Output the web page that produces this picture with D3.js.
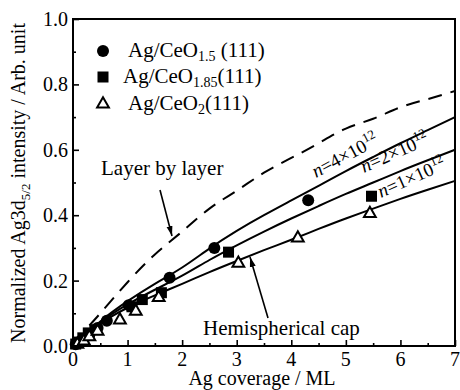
<!DOCTYPE html>
<html><head><meta charset="utf-8">
<script src="https://cdn.jsdelivr.net/npm/d3@7"></script>
<style>
svg text, svg tspan { font-family: "Liberation Serif" !important; }
</style>
</head><body style="margin:0;background:#fff">
<svg id="c" width="460" height="390" style="display:block"></svg>
<script>
// ---- data ----
const xTicks = [0, 1, 2, 3, 4, 5, 6, 7];
const yTicks = [0.0, 0.2, 0.4, 0.6, 0.8, 1.0];
const xMinor = [0.5, 1.5, 2.5, 3.5, 4.5, 5.5, 6.5];
const yMinor = [0.1, 0.3, 0.5, 0.7, 0.9];

const circX = [0.05, 0.12, 0.2, 0.3, 0.45, 0.62, 1.02, 1.77, 2.59, 4.31];
const circY = [0.005, 0.012, 0.022, 0.035, 0.055, 0.077, 0.125, 0.209, 0.30, 0.446];
const sqX = [0.05, 0.1, 0.18, 0.28, 0.4, 1.08, 1.27, 1.62, 2.85, 5.47];
const sqY = [0.006, 0.012, 0.025, 0.04, 0.05, 0.12, 0.142, 0.163, 0.287, 0.458];
const triX = [0.08, 0.2, 0.3, 0.45, 0.86, 1.15, 1.57, 3.03, 4.12, 5.44];
const triY = [0.005, 0.015, 0.028, 0.045, 0.079, 0.106, 0.148, 0.253, 0.33, 0.405];

const curveX = [0, 0.5, 1, 1.5, 2, 2.5, 3, 3.5, 4, 4.5, 5, 5.5, 6, 6.5, 7];
const n4Y = [0, 0.075, 0.137, 0.19, 0.24, 0.298, 0.352, 0.40, 0.445, 0.49, 0.535, 0.578, 0.62, 0.66, 0.70];
const n2Y = [0, 0.072, 0.127, 0.172, 0.215, 0.263, 0.308, 0.35, 0.39, 0.428, 0.465, 0.50, 0.535, 0.568, 0.60];
const n1Y = [0, 0.068, 0.117, 0.155, 0.19, 0.226, 0.26, 0.293, 0.325, 0.358, 0.39, 0.42, 0.45, 0.478, 0.505];

const lblX = [0.3, 0.5, 1, 1.5, 2, 2.5, 3, 3.5, 4, 4.5, 5, 5.5, 6, 6.5, 7];
const lblY = [0.063, 0.10, 0.195, 0.28, 0.35, 0.42, 0.475, 0.53, 0.575, 0.62, 0.665, 0.695, 0.73, 0.755, 0.78];

// ---- layout ----
const svg = d3.select("#c");
const L = 73, R = 455, T = 19, B = 346;
const x = d3.scaleLinear().domain([0, 7]).range([L, R]);
const y = d3.scaleLinear().domain([0, 1]).range([B, T]);

function txt(sel, size) {
  return sel.style("font-family", '"Liberation Serif"', "important").style("font-size", size + "px");
}

// curves
const line = d3.line().x(d => x(d[0])).y(d => y(d[1])).curve(d3.curveNatural);
svg.append("path").attr("d", line(d3.zip(lblX, lblY)))
  .attr("fill", "none").attr("stroke", "#000").attr("stroke-width", 2)
  .attr("stroke-dasharray", "14,9");
[n4Y, n2Y, n1Y].forEach(ys => {
  svg.append("path").attr("d", line(d3.zip(curveX, ys)))
    .attr("fill", "none").attr("stroke", "#000").attr("stroke-width", 2);
});

// markers
svg.append("g").selectAll("circle").data(d3.zip(circX, circY)).join("circle")
  .attr("cx", d => x(d[0])).attr("cy", d => y(d[1])).attr("r", 6).attr("fill", "#000");
svg.append("g").selectAll("rect").data(d3.zip(sqX, sqY)).join("rect")
  .attr("x", d => x(d[0]) - 5.5).attr("y", d => y(d[1]) - 5.5)
  .attr("width", 11).attr("height", 11).attr("fill", "#000");
const tri = d3.symbol().type(d3.symbolTriangle).size(60);
svg.append("g").selectAll("path").data(d3.zip(triX, triY)).join("path")
  .attr("d", tri).attr("transform", d => `translate(${x(d[0])},${y(d[1])})`)
  .attr("fill", "#fff").attr("stroke", "#000").attr("stroke-width", 2);

// axes: tick marks from d3 axes, labels drawn from the same scales
[[xTicks, -6], [xMinor, -3]].forEach(([v, s]) =>
  svg.append("g").attr("transform", `translate(0,${B})`)
    .call(d3.axisBottom(x).tickValues(v).tickSize(s).tickFormat("")));
[[yTicks, -6], [yMinor, -3]].forEach(([v, s]) =>
  svg.append("g").attr("transform", `translate(${L},0)`)
    .call(d3.axisLeft(y).tickValues(v).tickSize(s).tickFormat("")));
svg.selectAll(".domain").remove();
svg.selectAll(".tick text").remove();
svg.selectAll("g").attr("font-family", null).attr("font-size", null);
svg.selectAll(".tick line").attr("stroke", "#000").attr("stroke-width", 1.6);

txt(svg.append("g").selectAll("text").data(xTicks).join("text"), 20)
  .attr("x", d => x(d)).attr("y", 366).attr("text-anchor", "middle").text(d3.format("d"));
txt(svg.append("g").selectAll("text").data(yTicks).join("text"), 20)
  .attr("x", L - 5).attr("y", d => y(d) + 7).attr("text-anchor", "end").text(d3.format(".1f"));

svg.append("rect").attr("x", L).attr("y", T).attr("width", R - L).attr("height", B - T)
  .attr("fill", "none").attr("stroke", "#000").attr("stroke-width", 2);

// axis titles
txt(svg.append("text"), 20).attr("x", (L + R) / 2 - 2).attr("y", 385).attr("text-anchor", "middle")
  .text("Ag coverage / ML");
const yt = txt(svg.append("text"), 20).attr("transform", "translate(25,183) rotate(-90)")
  .attr("text-anchor", "middle");
yt.append("tspan").text("Normalized Ag3d");
yt.append("tspan").attr("dy", 5).style("font-size", "13px").text("5/2");
yt.append("tspan").attr("dy", -5).text(" intensity / Arb. unit");

// legend
const legSub = ["1.5", "1.85", "2"];
const legTail = [" (111)", "(111)", "(111)"];
const legTy = [57, 83, 110];
const legTx = [128, 123, 128];
legSub.forEach((s, i) => {
  const cy = legTy[i] - 6;
  if (i === 0) svg.append("circle").attr("cx", 103).attr("cy", cy).attr("r", 6).attr("fill", "#000");
  if (i === 1) svg.append("rect").attr("x", 97.5).attr("y", cy - 5.5).attr("width", 11).attr("height", 11).attr("fill", "#000");
  if (i === 2) svg.append("path").attr("d", tri).attr("transform", `translate(103,${cy})`)
    .attr("fill", "#fff").attr("stroke", "#000").attr("stroke-width", 2);
  const t = txt(svg.append("text"), 21).attr("x", legTx[i]).attr("y", legTy[i]);
  t.append("tspan").text("Ag/CeO");
  t.append("tspan").attr("dy", 4).style("font-size", "14px").text(s);
  t.append("tspan").attr("dy", -4).text(legTail[i]);
});

// annotations
txt(svg.append("text"), 21).attr("x", 101).attr("y", 175).text("Layer by layer");
txt(svg.append("text"), 21).attr("x", 203).attr("y", 335).text("Hemispherical cap");

svg.append("defs").append("marker").attr("id", "ah").attr("viewBox", "0 0 10 10")
  .attr("refX", 10).attr("refY", 5).attr("markerWidth", 10).attr("markerHeight", 10)
  .attr("markerUnits", "userSpaceOnUse").attr("orient", "auto")
  .append("path").attr("d", "M0,2 L10,5 L0,8 Z").attr("fill", "#000");
svg.append("line").attr("x1", 160).attr("y1", 190).attr("x2", 172).attr("y2", 236)
  .attr("stroke", "#000").attr("stroke-width", 1.6).attr("marker-end", "url(#ah)");
svg.append("line").attr("x1", 268).attr("y1", 318).attr("x2", 250).attr("y2", 257)
  .attr("stroke", "#000").attr("stroke-width", 1.6).attr("marker-end", "url(#ah)");

// curve labels
function nLabel(px, py, ang, num) {
  const t = txt(svg.append("text"), 19).attr("transform", `translate(${px},${py}) rotate(${ang})`);
  t.append("tspan").style("font-style", "italic").text("n");
  t.append("tspan").text("=" + num + "×10");
  t.append("tspan").attr("dy", -8).style("font-size", "13px").text("12");
}
nLabel(316, 178, -28, "4");
nLabel(364, 173, -24, "2");
nLabel(381, 198, -24, "1");
</script>
</body></html>
